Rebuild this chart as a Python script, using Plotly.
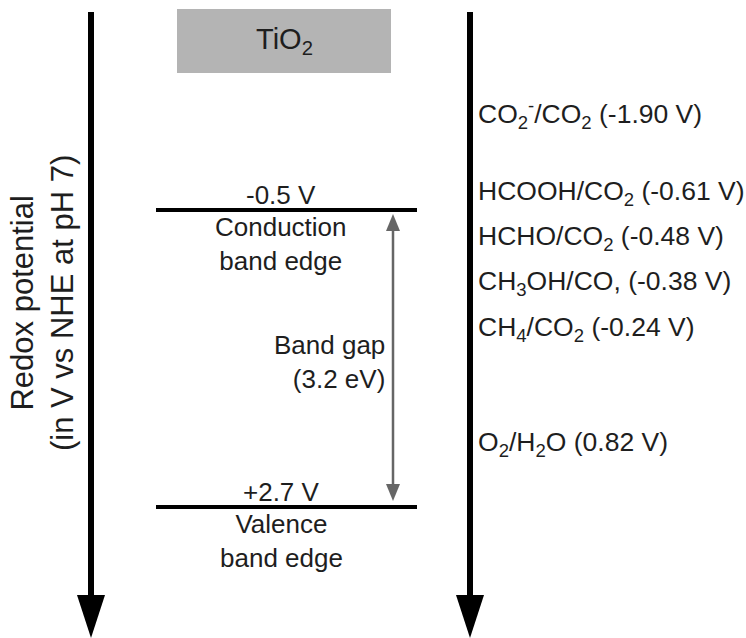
import plotly.graph_objects as go

# ---------------- data ----------------
material = "TiO<sub>2</sub>"
band_edges_V = [-0.5, 2.7]                 # conduction, valence
band_edge_names = ["Conduction<br>band edge", "Valence<br>band edge"]
band_gap_eV = 3.2
couples = ["CO<sub>2</sub><sup>-</sup>/CO<sub>2</sub>", "HCOOH/CO<sub>2</sub>",
           "HCHO/CO<sub>2</sub>", "CH<sub>3</sub>OH/CO,", "CH<sub>4</sub>/CO<sub>2</sub>",
           "O<sub>2</sub>/H<sub>2</sub>O"]
couple_potentials_V = [-1.90, -0.61, -0.48, -0.38, -0.24, 0.82]
axis_title = "Redox potential<br>(in V vs NHE at pH 7)"

# ---------------- layout (schematic positions, diagram units) ----------------
W, H = 746, 638
left_axis_x, right_axis_x = 91, 470
axis_top, head_len, head_w, axis_lw = 12, 43, 28, 6
box_x, box_y = (177, 391), (9, 73)
band_x = (156, 417)
band_y = [210, 507]                       # schematic levels of band edges
gap_x = 393
couple_y = [114, 193, 238, 283, 329, 444] # schematic levels of couples
label_x = 476
FONT = "Liberation Sans, Arial, sans-serif"
TXT = "#1e1e1e"

fig = go.Figure()
shapes, ann = [], []

def vline_arrow(x, y0, y1, lw, hl, hw, color):
    shapes.append(dict(type="line", x0=x, x1=x, y0=y0, y1=y1 - hl + 2,
                       line=dict(color=color, width=lw), xref="x", yref="y"))
    shapes.append(dict(type="path", xref="x", yref="y",
                       path=f"M {x-hw/2} {y1-hl} L {x+hw/2} {y1-hl} L {x} {y1} Z",
                       fillcolor=color, line=dict(color=color, width=0)))

# main potential axes
vline_arrow(left_axis_x, axis_top, H, axis_lw, head_len, head_w, "black")
vline_arrow(right_axis_x, axis_top, H, axis_lw, head_len, head_w, "black")

# material box
shapes.append(dict(type="rect", x0=box_x[0], x1=box_x[1], y0=box_y[0], y1=box_y[1],
                   fillcolor="#b4b4b4", line=dict(width=0), xref="x", yref="y", layer="below"))
ann.append(dict(x=sum(box_x)/2, y=sum(box_y)/2, text=material, showarrow=False,
                font=dict(size=29, color=TXT, family=FONT), xanchor="center", yanchor="middle"))

# band edges as traces
for yv in band_y:
    fig.add_trace(go.Scatter(x=list(band_x), y=[yv, yv], mode="lines",
                             line=dict(color="black", width=4), hoverinfo="skip", showlegend=False))

# band edge labels
for i, (v, name) in enumerate(zip(band_edges_V, band_edge_names)):
    vs = f"{v:+.1f} V" if v > 0 else f"{v:.1f} V"
    ann.append(dict(x=281, y=band_y[i] - 15, text=vs, showarrow=False,
                    font=dict(size=26, color=TXT, family=FONT), xanchor="center", yanchor="middle"))
    ann.append(dict(x=281, y=band_y[i] + 34, text=name, showarrow=False, align="center",
                    font=dict(size=26, color=TXT, family=FONT), xanchor="center", yanchor="middle"))

# band gap double arrow
g0, g1, ghl, ghw = band_y[0] + 4, band_y[1] - 6, 17, 14
gc = "#666666"
shapes.append(dict(type="line", x0=gap_x, x1=gap_x, y0=g0 + ghl - 2, y1=g1 - ghl + 2,
                   line=dict(color=gc, width=2.5), xref="x", yref="y"))
shapes.append(dict(type="path", xref="x", yref="y",
                   path=f"M {gap_x-ghw/2} {g0+ghl} L {gap_x+ghw/2} {g0+ghl} L {gap_x} {g0} Z",
                   fillcolor=gc, line=dict(width=0)))
shapes.append(dict(type="path", xref="x", yref="y",
                   path=f"M {gap_x-ghw/2} {g1-ghl} L {gap_x+ghw/2} {g1-ghl} L {gap_x} {g1} Z",
                   fillcolor=gc, line=dict(width=0)))
ann.append(dict(x=gap_x - 6, y=(band_y[0] + band_y[1]) / 2 + 3,
                text=f"Band gap<br>({band_gap_eV:.1f} eV)", showarrow=False, align="right",
                font=dict(size=26, color=TXT, family=FONT), xanchor="right", yanchor="middle"))

# redox couples
for c, v, yv in zip(couples, couple_potentials_V, couple_y):
    ann.append(dict(x=label_x, y=yv, text=f"{c} ({v:.2f} V)", showarrow=False,
                    font=dict(size=26.5, color=TXT, family=FONT), xanchor="left", yanchor="middle"))

# axis title
ann.append(dict(x=42, y=303, text=axis_title, textangle=-90, showarrow=False, align="center",
                font=dict(size=31, color=TXT, family=FONT), xanchor="center", yanchor="middle"))

fig.update_layout(
    width=W, height=H, margin=dict(l=0, r=0, t=0, b=0),
    paper_bgcolor="white", plot_bgcolor="white",
    xaxis=dict(range=[0, W], visible=False, fixedrange=True),
    yaxis=dict(range=[H, 0], visible=False, fixedrange=True),
    shapes=shapes, annotations=ann, showlegend=False,
)
fig.write_html("out.html")
